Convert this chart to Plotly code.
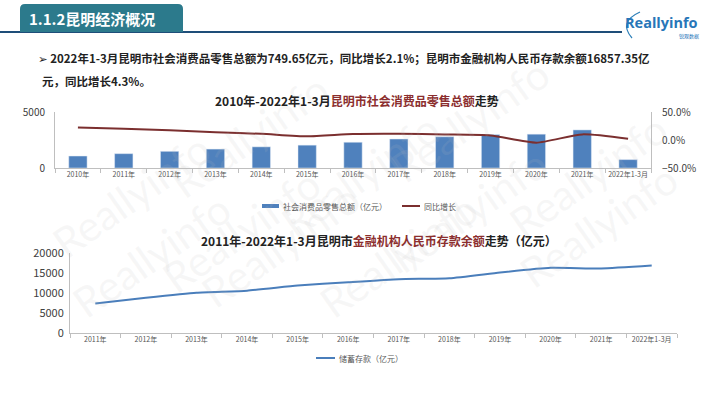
import plotly.graph_objects as go

W, H = 710, 399

# ---- data ----
years_top = ["2010年", "2011年", "2012年", "2013年", "2014年", "2015年", "2016年",
             "2017年", "2018年", "2019年", "2020年", "2021年", "2022年1-3月"]
retail_sales = [1070, 1280, 1490, 1690, 1890, 2040, 2300, 2590, 2790, 2990, 3020, 3400, 749.65]
retail_growth = [0.224, 0.20, 0.176, 0.14, 0.11, 0.065, 0.106, 0.11, 0.10, 0.082, -0.047, 0.10, 0.021]

years_bottom = ["2011年", "2012年", "2013年", "2014年", "2015年", "2016年",
                "2017年", "2018年", "2019年", "2020年", "2021年", "2022年1-3月"]
deposits = [7400, 8820, 10080, 10590, 11850, 12690, 13450, 13700, 15130, 16300, 16130, 16857.35]

FONT = "Noto Sans CJK SC, Noto Sans, DejaVu Sans, sans-serif"
BAR_C = "#4F81BD"
LINE_C = "#7B2F2F"
DEP_C = "#4A7EBB"
RED_T = "#8B2E2E"
AX_C = "#BFBFBF"


def px(x):
    return x / W


def py(y):
    return 1 - y / H


fig = go.Figure()

fig.add_trace(go.Bar(x=years_top, y=retail_sales, name="社会消费品零售总额（亿元）",
                     marker_color=BAR_C, width=0.4, xaxis="x", yaxis="y"))
fig.add_trace(go.Scatter(x=years_top, y=retail_growth, name="同比增长", mode="lines",
                         line=dict(color=LINE_C, width=2, shape="spline", smoothing=0.6),
                         xaxis="x", yaxis="y2"))
fig.add_trace(go.Scatter(x=years_bottom, y=deposits, name="储蓄存款（亿元）", mode="lines",
                         line=dict(color=DEP_C, width=2, shape="spline", smoothing=0.5),
                         xaxis="x3", yaxis="y3"))

tick_font_small = dict(family=FONT, size=7, color="#555555")
tick_font_y = dict(family=FONT, size=10, color="#404040")

fig.update_layout(
    width=W, height=H,
    margin=dict(l=0, r=0, t=0, b=0, pad=0, autoexpand=False),
    paper_bgcolor="white", plot_bgcolor="rgba(0,0,0,0)",
    font=dict(family=FONT),
    showlegend=False,
    hovermode=False,
    xaxis=dict(domain=[px(55), px(651)], anchor="y", range=[-0.5, len(years_top) - 0.5],
               showgrid=False, showline=True,
               linecolor=AX_C, linewidth=1, ticks="outside", tickcolor=AX_C, ticklen=4,
               tickson="boundaries", tickfont=tick_font_small, tickangle=0, fixedrange=True,
               automargin=False),
    yaxis=dict(domain=[py(168), py(112)], anchor="x", range=[0, 5000], tickvals=[0, 5000],
               tickformat="d", showgrid=False, showline=True, linecolor=AX_C, linewidth=1,
               zeroline=False, tickfont=tick_font_y, ticks="", ticklabelstandoff=7,
               automargin=False),
    yaxis2=dict(overlaying="y", side="right", anchor="x", range=[-0.5, 0.5],
                tickvals=[-0.5, 0, 0.5], tickformat=".1%", showgrid=False, showline=True,
                linecolor=AX_C, linewidth=1, zeroline=False, tickfont=tick_font_y,
                ticks="", ticklabelstandoff=8, automargin=False),
    xaxis3=dict(domain=[px(70), px(677)], anchor="y3", range=[-0.5, len(years_bottom) - 0.5],
                showgrid=False, showline=True,
                linecolor=AX_C, linewidth=1, ticks="outside", tickcolor=AX_C, ticklen=4,
                tickson="boundaries", tickfont=tick_font_small, tickangle=0, fixedrange=True,
                automargin=False),
    yaxis3=dict(domain=[py(333), py(253)], anchor="x3", range=[0, 20000],
                tickvals=[0, 5000, 10000, 15000, 20000], tickformat="d", showgrid=False,
                showline=True, linecolor=AX_C, linewidth=1, zeroline=False,
                tickfont=dict(family=FONT, size=11, color="#404040"), ticks="",
                ticklabelstandoff=3, automargin=False),
)

shapes = []
# header underline
shapes.append(dict(type="line", xref="paper", yref="paper", x0=0, x1=px(622), y0=py(32), y1=py(32),
                   line=dict(color="#1E4E79", width=2)))
# banner with rounded top corners
x0, x1, y0, y1, r = 20, 183, 4, 32, 5
path = (f"M {px(x0)},{py(y1)} L {px(x0)},{py(y0 + r)} Q {px(x0)},{py(y0)} {px(x0 + r)},{py(y0)} "
        f"L {px(x1 - r)},{py(y0)} Q {px(x1)},{py(y0)} {px(x1)},{py(y0 + r)} L {px(x1)},{py(y1)} Z")
shapes.append(dict(type="path", xref="paper", yref="paper", path=path,
                   fillcolor="#2C7A8C", line=dict(width=0)))
# logo arc
shapes.append(dict(type="path", xref="paper", yref="paper",
                   path=f"M {px(640)},{py(12)} Q {px(618)},{py(22)} {px(632)},{py(38)}",
                   line=dict(color="#2C7FB8", width=1.2)))
# custom legend swatches
shapes.append(dict(type="rect", xref="paper", yref="paper", x0=px(262), x1=px(279),
                   y0=py(208), y1=py(204), fillcolor=BAR_C, line=dict(width=0)))
shapes.append(dict(type="line", xref="paper", yref="paper", x0=px(402), x1=px(420),
                   y0=py(206), y1=py(206), line=dict(color=LINE_C, width=2)))
shapes.append(dict(type="line", xref="paper", yref="paper", x0=px(316), x1=px(335),
                   y0=py(358), y1=py(358), line=dict(color=DEP_C, width=2)))
fig.update_layout(shapes=shapes)

ann = []
# watermarks (faint)
wm = [(40, 120), (250, 60), (470, 45), (680, 100), (150, 230),
      (360, 175), (560, 210), (60, 330), (280, 320), (490, 330), (690, 300)]
for (x, y) in wm:
    ann.append(dict(x=px(x), y=py(y), xref="paper", yref="paper", text="Reallyinfo",
                    showarrow=False, textangle=-35,
                    font=dict(family="Lato, sans-serif", size=42, color="rgba(190,190,190,0.12)")))

leg_font = dict(family=FONT, size=8, color="#595959")
ann += [
    dict(x=px(281), y=py(206), xref="paper", yref="paper", xanchor="left", yanchor="middle",
         text="社会消费品零售总额（亿元）", showarrow=False, font=leg_font),
    dict(x=px(422), y=py(206), xref="paper", yref="paper", xanchor="left", yanchor="middle",
         text="同比增长", showarrow=False, font=leg_font),
    dict(x=px(337), y=py(358), xref="paper", yref="paper", xanchor="left", yanchor="middle",
         text="储蓄存款（亿元）", showarrow=False, font=leg_font),
    dict(x=px(27), y=py(18), xref="paper", yref="paper", xanchor="left", yanchor="middle",
         text="<b>1.1.2昆明经济概况</b>", showarrow=False,
         font=dict(family=FONT, size=15, color="white")),
    dict(x=px(661), y=py(22), xref="paper", yref="paper", xanchor="center", yanchor="middle",
         text="<b>Reallyinfo</b>", showarrow=False,
         font=dict(family="Open Sans, sans-serif", size=14.5, color="#2776B8")),
    dict(x=px(689), y=py(36), xref="paper", yref="paper", xanchor="center", yanchor="middle",
         text="锐观数据", showarrow=False,
         font=dict(family=FONT, size=5, color="#2776B8")),
    dict(x=px(36), y=py(58), xref="paper", yref="paper", xanchor="left", yanchor="middle",
         text="<b>➢ 2022年1-3月昆明市社会消费品零售总额为749.65亿元，同比增长2.1%；昆明市金融机构人民币存款余额16857.35亿</b>",
         showarrow=False, font=dict(family=FONT, size=11.5, color="#222222")),
    dict(x=px(40), y=py(81), xref="paper", yref="paper", xanchor="left", yanchor="middle",
         text="<b>元，同比增长4.3%。</b>",
         showarrow=False, font=dict(family=FONT, size=11.5, color="#222222")),
    dict(x=px(357), y=py(101), xref="paper", yref="paper", xanchor="center", yanchor="middle",
         text=f"<b>2010年-2022年1-3月<span style='color:{RED_T}'>昆明市社会消费品零售总额</span>走势</b>",
         showarrow=False, font=dict(family=FONT, size=12, color="#222222")),
    dict(x=px(379), y=py(240), xref="paper", yref="paper", xanchor="center", yanchor="middle",
         text=f"<b>2011年-2022年1-3月昆明市<span style='color:{RED_T}'>金融机构人民币存款余额</span>走势（亿元）</b>",
         showarrow=False, font=dict(family=FONT, size=12, color="#222222")),
]
fig.update_layout(annotations=ann)

fig.write_html("out.html", config={"displayModeBar": False, "staticPlot": True},
               post_script="document.body.style.margin='0px';document.body.style.overflow='hidden';")
